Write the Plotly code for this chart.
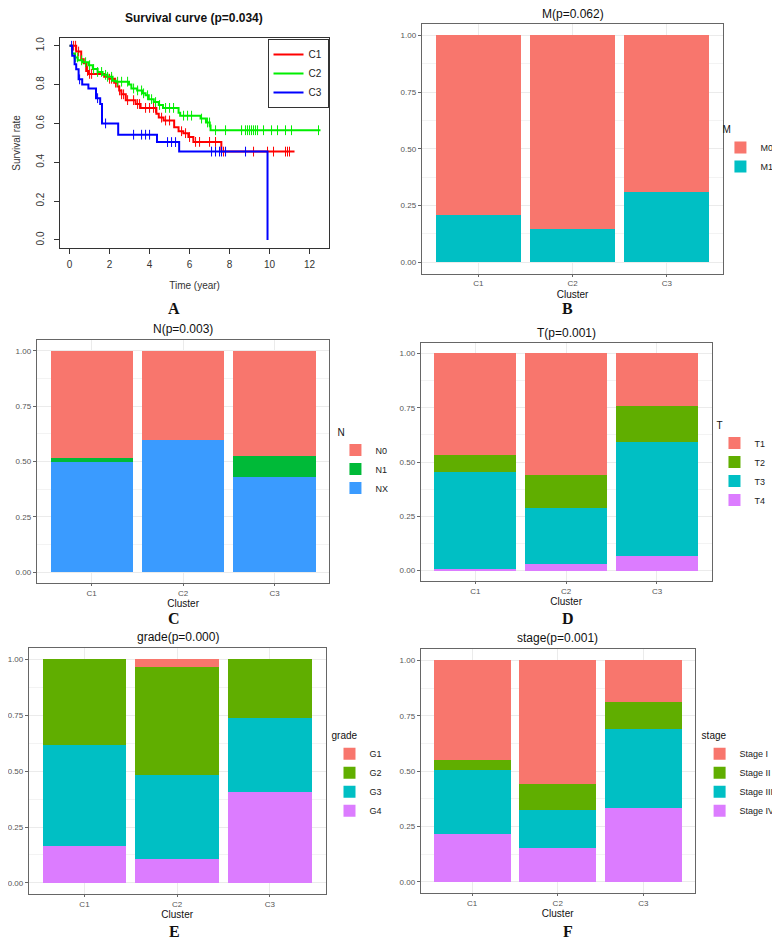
import plotly.graph_objects as go

# the page body keeps its default 8px margin, so the figure is made smaller by
# that margin and every position below is given in page pixels of the 780x942 window
OFF = 8
W, H = 780 - OFF, 942 - OFF

# ---------------- Panel A: survival curves ----------------
c1_time = [0, 0.33, 0.58, 0.71, 0.83, 0.94, 1.73, 1.98, 2.23, 2.39, 2.48, 2.59, 2.81, 3.3, 3.55,
           4.34, 4.46, 4.70, 5.23, 5.45, 5.69, 5.94, 6.19, 7.59, 11.25]
c1_surv = [1.0, 0.97, 0.93, 0.91, 0.87, 0.855, 0.84, 0.83, 0.81, 0.79, 0.77, 0.75, 0.72, 0.70, 0.68,
           0.65, 0.63, 0.615, 0.58, 0.56, 0.55, 0.53, 0.505, 0.455, 0.455]
c2_time = [0, 0.12, 0.25, 0.41, 0.66, 0.94, 1.16, 1.40, 1.65, 1.90, 2.15, 2.31, 2.97, 3.09, 3.38,
           3.63, 3.80, 3.96, 4.21, 4.46, 4.67, 5.45, 5.53, 6.55, 6.82, 7.01, 7.05, 12.55]
c2_surv = [1.0, 0.96, 0.94, 0.925, 0.915, 0.90, 0.88, 0.865, 0.85, 0.84, 0.82, 0.815, 0.80, 0.78, 0.77,
           0.755, 0.745, 0.725, 0.71, 0.695, 0.68, 0.655, 0.64, 0.625, 0.605, 0.59, 0.565, 0.565]
c3_time = [0, 0.13, 0.25, 0.33, 0.45, 0.63, 0.94, 1.32, 1.53, 1.62, 2.43, 4.37, 5.48, 9.9]
c3_surv = [1.0, 0.948, 0.905, 0.879, 0.827, 0.80, 0.78, 0.73, 0.70, 0.60, 0.542, 0.504, 0.455, 0.0]

c1_cens = [0.2, 0.3, 0.45, 0.9, 1.0, 1.1, 2.0, 2.1, 2.3, 2.5, 2.6, 2.7, 2.9, 3.2, 3.4, 3.5, 3.8, 4.0,
           4.2, 4.3, 4.6, 4.8, 5.0, 5.6, 5.8, 6.0, 6.3, 6.5, 7.0, 7.3, 7.7, 9.2, 9.9, 10.2, 10.8, 10.9, 11.0]
c2_cens = [0.3, 0.4, 0.6, 0.8, 1.0, 1.2, 1.4, 1.6, 1.8, 1.9, 2.1, 2.4, 2.6, 2.9, 3.2, 3.4, 3.6, 3.7,
           3.9, 4.1, 4.3, 4.5, 4.8, 5.0, 5.2, 5.7, 5.9, 6.1, 6.6, 6.9, 7.0, 7.3, 7.8, 8.6, 8.8, 8.9, 9.0,
           9.1, 9.2, 9.3, 9.4, 9.7, 10.1, 10.4, 10.8, 11.1, 12.45]
c3_cens = [0.1, 0.5, 1.4, 1.8, 3.2, 3.6, 3.8, 4.0, 4.9, 5.1, 5.3, 7.1, 7.3, 7.5, 7.6, 7.8, 8.8]

# ---------------- Bar panels (proportions per cluster) ----------------
clusters = ["C1", "C2", "C3"]

m_levels = ["M0", "M1"]
m_vals = {"M0": [0.793, 0.853, 0.69], "M1": [0.207, 0.147, 0.31]}

n_levels = ["N0", "N1", "NX"]
n_vals = {"N0": [0.484, 0.402, 0.475], "N1": [0.02, 0.0, 0.097], "NX": [0.496, 0.598, 0.428]}

t_levels = ["T1", "T2", "T3", "T4"]
t_vals = {"T1": [0.467, 0.558, 0.24], "T2": [0.077, 0.152, 0.166],
          "T3": [0.447, 0.259, 0.525], "T4": [0.009, 0.031, 0.069]}

g_levels = ["G1", "G2", "G3", "G4"]
g_vals = {"G1": [0.0, 0.033, 0.0], "G2": [0.384, 0.484, 0.263],
          "G3": [0.449, 0.378, 0.332], "G4": [0.167, 0.105, 0.405]}

s_levels = ["Stage I", "Stage II", "Stage III", "Stage IV"]
s_vals = {"Stage I": [0.45, 0.558, 0.19], "Stage II": [0.045, 0.119, 0.12],
          "Stage III": [0.29, 0.17, 0.356], "Stage IV": [0.215, 0.153, 0.334]}

pal2 = ["#F8766D", "#00BFC4"]
pal3 = ["#F8766D", "#00BA38", "#3A9BFF"]
pal4 = ["#F8766D", "#60AE00", "#00BFC4", "#DC7CFF"]


def px(x):
    return (x - OFF) / W


def py(y):
    return 1 - (y - OFF) / H


def surv_at(times, survs, t):
    s = survs[0]
    for ti, si in zip(times, survs):
        if ti <= t:
            s = si
    return s


fig = go.Figure()

# survival panel
for name, tt, ss, cc, col in [("C1", c1_time, c1_surv, c1_cens, "#FF0000"),
                              ("C2", c2_time, c2_surv, c2_cens, "#00EE00"),
                              ("C3", c3_time, c3_surv, c3_cens, "#0000FF")]:
    fig.add_trace(go.Scatter(x=tt, y=ss, mode="lines", line=dict(color=col, width=2, shape="hv"),
                             name=name, xaxis="x", yaxis="y", legend="legend"))
    fig.add_trace(go.Scatter(x=cc, y=[surv_at(tt, ss, t) for t in cc], mode="markers",
                             marker=dict(symbol="line-ns", size=7, line=dict(color=col, width=1)),
                             showlegend=False, xaxis="x", yaxis="y"))

# bar panels: (levels, values, palette, axis suffix, legend id)
bar_panels = [
    (m_levels, m_vals, pal2, "2", "legend2"),
    (n_levels, n_vals, pal3, "3", "legend3"),
    (t_levels, t_vals, pal4, "4", "legend4"),
    (g_levels, g_vals, pal4, "5", "legend5"),
    (s_levels, s_vals, pal4, "6", "legend6"),
]
for levels, vals, pal, ax, lg in bar_panels:
    # last level at the bottom of the stack, like ggplot
    for lev, col in reversed(list(zip(levels, pal))):
        fig.add_trace(go.Bar(x=clusters, y=vals[lev], name=lev, marker=dict(color=col, line=dict(width=0)),
                             width=0.9, xaxis="x" + ax, yaxis="y" + ax, legend=lg))

# panel boxes in page pixels: left, right, top, bottom
boxes = {
    "2": (423, 727, 23, 273),
    "3": (35, 330, 339, 583),
    "4": (422, 715, 342, 581),
    "5": (27, 326, 648, 894),
    "6": (422, 698, 649, 893),
}

layout = dict(
    width=W, height=H, margin=dict(l=0, r=0, t=0, b=0),
    paper_bgcolor="white", plot_bgcolor="white", barmode="stack",
    font=dict(family="Liberation Sans, Arial, sans-serif", color="#333333"),
    xaxis=dict(domain=[px(58), px(330)], range=[-0.5, 13.0], tickvals=list(range(0, 13, 2)),
               showgrid=False, zeroline=False, showline=True, mirror=True, linecolor="#333333",
               ticks="outside", ticklen=5, tickcolor="#333333", ticklabelstandoff=2,
               tickfont=dict(size=10, color="#333333"),
               title=dict(text="Time (year)", font=dict(size=10, color="#333333"), standoff=13),
               anchor="y"),
    yaxis=dict(domain=[py(247), py(37)], range=[-0.04, 1.04], tickvals=[0, 0.2, 0.4, 0.6, 0.8, 1.0],
               tickformat=".1f", tickangle=-90, showgrid=False, zeroline=False, showline=True, mirror=True,
               linecolor="#333333", ticks="outside", ticklen=5, tickcolor="#333333", ticklabelstandoff=6,
               tickfont=dict(size=10, color="#333333"),
               title=dict(text="Survival rate", font=dict(size=10, color="#333333"), standoff=12),
               anchor="x"),
    legend=dict(x=px(329), y=py(38), xanchor="right", yanchor="top", bgcolor="white",
                bordercolor="#333333", borderwidth=1, font=dict(size=10, color="#222"),
                itemwidth=30, tracegroupgap=0),
)

# legend left/top in page pixels
legend_pos = {"2": (724, 119), "3": (336, 422), "4": (718, 415), "5": (330, 726), "6": (703, 726)}
legend_titles = {"2": "M", "3": "N", "4": "T", "5": "grade", "6": "stage"}

for ax, (l, r, t, b) in boxes.items():
    layout["xaxis" + ax] = dict(domain=[px(l), px(r)], anchor="y" + ax, range=[-0.6, 2.6],
                                showgrid=True, gridcolor="#EBEBEB", gridwidth=1, zeroline=False,
                                showline=True, mirror=True, linecolor="#666666", linewidth=1,
                                ticks="outside", ticklen=2, tickcolor="#666666",
                                tickfont=dict(size=8, color="#555555"),
                                title=dict(text="Cluster", font=dict(size=10, color="#111"), standoff=3))
    layout["yaxis" + ax] = dict(domain=[py(b), py(t)], anchor="x" + ax, range=[-0.05, 1.05],
                                tickvals=[0, 0.25, 0.5, 0.75, 1.0], tickformat=".2f",
                                showgrid=True, gridcolor="#EBEBEB", gridwidth=1, zeroline=False,
                                minor=dict(tickmode="linear", tick0=0.125, dtick=0.25, showgrid=True,
                                           gridcolor="#F3F3F3", gridwidth=0.6),
                                showline=True, mirror=True, linecolor="#666666", linewidth=1,
                                ticks="outside", ticklen=3, tickcolor="#666666",
                                tickfont=dict(size=8, color="#555555"))
    lx, ly = legend_pos[ax]
    layout["legend" + ax] = dict(x=px(lx), y=py(ly), xanchor="left", yanchor="top",
                                 traceorder="reversed", bgcolor="rgba(0,0,0,0)",
                                 title=dict(text=legend_titles[ax], font=dict(size=10, color="#111")),
                                 font=dict(size=9, color="#222"), tracegroupgap=0)

fig.update_layout(**layout)

# panel titles
titles = [
    ("<b>Survival curve (p=0.034)</b>", 193, 17, 12),
    ("M(p=0.062)", 575, 13, 12),
    ("N(p=0.003)", 182, 328, 12),
    ("T(p=0.001)", 569, 332, 12),
    ("grade(p=0.000)", 177, 637, 12),
    ("stage(p=0.001)", 560, 638, 12),
]
for txt, x, y, s in titles:
    fig.add_annotation(text=txt, x=px(x), y=py(y), xref="paper", yref="paper", showarrow=False,
                       xanchor="center", yanchor="middle", font=dict(size=s, color="#111"))

# panel letters
letters = [("A", 173, 308), ("B", 570, 308), ("C", 173, 618), ("D", 570, 618), ("E", 174, 931), ("F", 570, 931)]
for txt, x, y in letters:
    fig.add_annotation(text="<b>" + txt + "</b>", x=px(x), y=py(y), xref="paper", yref="paper",
                       showarrow=False, xanchor="center", yanchor="middle",
                       font=dict(size=16, color="#111", family="Liberation Serif, Times New Roman, serif"))

fig.write_html("out.html")
